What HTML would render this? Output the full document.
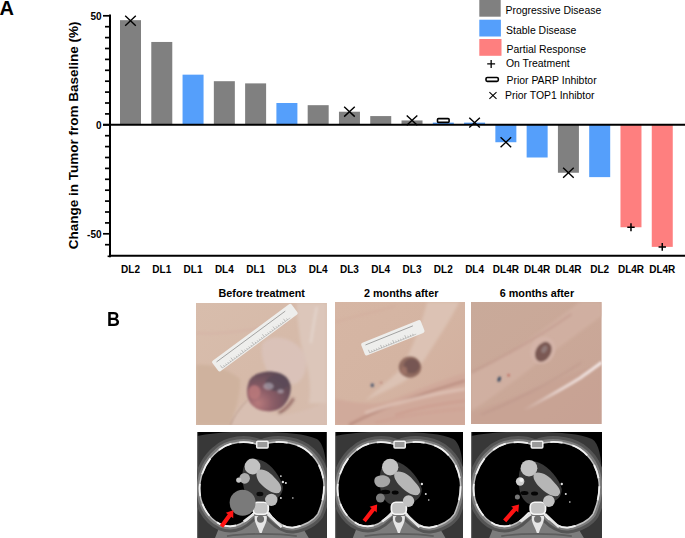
<!DOCTYPE html>
<html><head><meta charset="utf-8"><style>
html,body{margin:0;padding:0;background:#fff;}
body{width:685px;height:538px;overflow:hidden;position:relative;font-family:"Liberation Sans",sans-serif;}
.abs{position:absolute;}
.B{left:106.5px;top:307.8px;font-weight:bold;font-size:21px;line-height:22px;transform:scaleX(0.85);transform-origin:left top;}
.ttl{top:286.8px;font-weight:bold;font-size:10.8px;line-height:13px;white-space:nowrap;text-align:center;letter-spacing:0px;}
</style></head><body>
<svg class="abs" style="left:0;top:0" width="685" height="285" viewBox="0 0 685 285">
<rect x="120.00" y="20.16" width="21" height="104.64" fill="#808080"/>
<rect x="151.28" y="41.96" width="21" height="82.84" fill="#808080"/>
<rect x="182.56" y="74.66" width="21" height="50.14" fill="#559ffb"/>
<rect x="213.84" y="81.20" width="21" height="43.60" fill="#808080"/>
<rect x="245.12" y="83.38" width="21" height="41.42" fill="#808080"/>
<rect x="276.40" y="103.00" width="21" height="21.80" fill="#559ffb"/>
<rect x="307.68" y="105.18" width="21" height="19.62" fill="#808080"/>
<rect x="338.96" y="111.72" width="21" height="13.08" fill="#808080"/>
<rect x="370.24" y="116.08" width="21" height="8.72" fill="#808080"/>
<rect x="401.52" y="120.44" width="21" height="4.36" fill="#808080"/>
<rect x="432.80" y="122.62" width="21" height="2.18" fill="#559ffb"/>
<rect x="464.08" y="122.62" width="21" height="2.18" fill="#559ffb"/>
<rect x="495.36" y="124.80" width="21" height="17.44" fill="#559ffb"/>
<rect x="526.64" y="124.80" width="21" height="32.70" fill="#559ffb"/>
<rect x="557.92" y="124.80" width="21" height="47.96" fill="#808080"/>
<rect x="589.20" y="124.80" width="21" height="52.32" fill="#559ffb"/>
<rect x="620.48" y="124.80" width="21" height="102.46" fill="#fe7f7f"/>
<rect x="651.76" y="124.80" width="21" height="122.08" fill="#fe7f7f"/>
<line x1="110" y1="14.6" x2="110" y2="257.2" stroke="#000" stroke-width="2"/>
<line x1="107.6" y1="256.3" x2="110" y2="256.3" stroke="#000" stroke-width="1.6"/>
<line x1="105" y1="244.70" x2="110" y2="244.70" stroke="#000" stroke-width="1.7"/>
<line x1="103" y1="233.80" x2="110" y2="233.80" stroke="#000" stroke-width="1.7"/>
<line x1="105" y1="222.90" x2="110" y2="222.90" stroke="#000" stroke-width="1.7"/>
<line x1="105" y1="212.00" x2="110" y2="212.00" stroke="#000" stroke-width="1.7"/>
<line x1="105" y1="201.10" x2="110" y2="201.10" stroke="#000" stroke-width="1.7"/>
<line x1="105" y1="190.20" x2="110" y2="190.20" stroke="#000" stroke-width="1.7"/>
<line x1="105" y1="179.30" x2="110" y2="179.30" stroke="#000" stroke-width="1.7"/>
<line x1="105" y1="168.40" x2="110" y2="168.40" stroke="#000" stroke-width="1.7"/>
<line x1="105" y1="157.50" x2="110" y2="157.50" stroke="#000" stroke-width="1.7"/>
<line x1="105" y1="146.60" x2="110" y2="146.60" stroke="#000" stroke-width="1.7"/>
<line x1="105" y1="135.70" x2="110" y2="135.70" stroke="#000" stroke-width="1.7"/>
<line x1="103" y1="124.80" x2="110" y2="124.80" stroke="#000" stroke-width="1.7"/>
<line x1="105" y1="113.90" x2="110" y2="113.90" stroke="#000" stroke-width="1.7"/>
<line x1="105" y1="103.00" x2="110" y2="103.00" stroke="#000" stroke-width="1.7"/>
<line x1="105" y1="92.10" x2="110" y2="92.10" stroke="#000" stroke-width="1.7"/>
<line x1="105" y1="81.20" x2="110" y2="81.20" stroke="#000" stroke-width="1.7"/>
<line x1="105" y1="70.30" x2="110" y2="70.30" stroke="#000" stroke-width="1.7"/>
<line x1="105" y1="59.40" x2="110" y2="59.40" stroke="#000" stroke-width="1.7"/>
<line x1="105" y1="48.50" x2="110" y2="48.50" stroke="#000" stroke-width="1.7"/>
<line x1="105" y1="37.60" x2="110" y2="37.60" stroke="#000" stroke-width="1.7"/>
<line x1="105" y1="26.70" x2="110" y2="26.70" stroke="#000" stroke-width="1.7"/>
<line x1="103" y1="15.80" x2="110" y2="15.80" stroke="#000" stroke-width="1.7"/>
<line x1="103" y1="124.8" x2="685" y2="124.8" stroke="#000" stroke-width="2"/>
<line x1="109" y1="255.75" x2="685" y2="255.75" stroke="#000" stroke-width="2"/>
<path d="M125.20 15.86L135.80 25.66M135.80 15.86L125.20 25.66" stroke="#000" stroke-width="1.4" fill="none"/>
<path d="M344.16 106.82L354.76 116.62M354.76 106.82L344.16 116.62" stroke="#000" stroke-width="1.4" fill="none"/>
<path d="M406.72 115.54L417.32 125.34M417.32 115.54L406.72 125.34" stroke="#000" stroke-width="1.4" fill="none"/>
<rect x="437.50" y="118.6" width="11.6" height="3.8" rx="1" fill="#fff" stroke="#000" stroke-width="1.6"/>
<path d="M469.28 117.72L479.88 127.52M479.88 117.72L469.28 127.52" stroke="#000" stroke-width="1.4" fill="none"/>
<path d="M500.56 137.34L511.16 147.14M511.16 137.34L500.56 147.14" stroke="#000" stroke-width="1.4" fill="none"/>
<path d="M563.12 167.86L573.72 177.66M573.72 167.86L563.12 177.66" stroke="#000" stroke-width="1.4" fill="none"/>
<path d="M627.28 227.26H634.68M630.98 223.36V231.16" stroke="#000" stroke-width="1.5" fill="none"/>
<path d="M658.56 246.88H665.96M662.26 242.98V250.78" stroke="#000" stroke-width="1.5" fill="none"/>
<g font-family="Liberation Sans" font-weight="bold" font-size="10" fill="#000" text-anchor="end">
<text x="101.5" y="20.1">50</text>
<text x="101.5" y="128.6">0</text>
<text x="101.5" y="238.2">-50</text>
</g>
<g font-family="Liberation Sans" font-weight="bold" font-size="10" fill="#000" text-anchor="middle">
<text x="130.50" y="272.8">DL2</text>
<text x="161.78" y="272.8">DL1</text>
<text x="193.06" y="272.8">DL1</text>
<text x="224.34" y="272.8">DL4</text>
<text x="255.62" y="272.8">DL1</text>
<text x="286.90" y="272.8">DL3</text>
<text x="318.18" y="272.8">DL4</text>
<text x="349.46" y="272.8">DL3</text>
<text x="380.74" y="272.8">DL4</text>
<text x="412.02" y="272.8">DL3</text>
<text x="443.30" y="272.8">DL2</text>
<text x="474.58" y="272.8">DL4</text>
<text x="505.86" y="272.8">DL4R</text>
<text x="537.14" y="272.8">DL4R</text>
<text x="568.42" y="272.8">DL4R</text>
<text x="599.70" y="272.8">DL2</text>
<text x="630.98" y="272.8">DL4R</text>
<text x="662.26" y="272.8">DL4R</text>
</g>
<text transform="translate(78.2,135.3) rotate(-90)" font-family="Liberation Sans" font-weight="bold" font-size="13.5" text-anchor="middle">Change in Tumor from Baseline (%)</text>
<rect x="479.3" y="-1" width="21.4" height="17.7" fill="#808080"/>
<rect x="479.3" y="19.7" width="21.6" height="16.8" fill="#559ffb"/>
<rect x="479.3" y="39" width="22.2" height="16.8" fill="#fe7f7f"/>
<path d="M487.2 63.9H495.1M491.15 59.9V67.9" stroke="#000" stroke-width="1.3" fill="none"/>
<rect x="486" y="77.5" width="12.3" height="3.9" rx="1.3" fill="#fff" stroke="#000" stroke-width="1.6"/>
<g font-family="Liberation Sans" font-size="10.45" fill="#000">
<text x="505.5" y="13.8">Progressive Disease</text>
<text x="506.1" y="33.5">Stable Disease</text>
<text x="506.5" y="52.8">Partial Response</text>
<text x="505.9" y="67.4">On Treatment</text>
<text x="506.5" y="84.3">Prior PARP Inhibtor</text>
<text x="505" y="99.4">Prior TOP1 Inhibtor</text>
<path d="M489.4 92.1L496.5 98.8M496.5 92.1L489.4 98.8" stroke="#000" stroke-width="1.1" fill="none"/>
</g>
<text x="-0.4" y="15.2" font-family="Liberation Sans" font-weight="bold" font-size="20">A</text>
</svg>
<div class="abs B">B</div>
<div class="abs ttl" style="left:218.5px;width:86px">Before treatment</div>
<div class="abs ttl" style="left:364px;width:74px">2 months after</div>
<div class="abs ttl" style="left:499.7px;width:74px">6 months after</div>
<svg class="abs" style="left:196.0px;top:302.9px" width="130.9" height="122.3" viewBox="0 0 130 122" preserveAspectRatio="none"><defs><linearGradient id="p0g" x1="0" y1="0" x2="1" y2="1"><stop offset="0" stop-color="#d8bdac"/><stop offset="0.5" stop-color="#d6baa9"/><stop offset="1" stop-color="#d6bcad"/></linearGradient><radialGradient id="p0t" cx="0.25" cy="0.8" r="0.9"><stop offset="0" stop-color="#b87a7c"/><stop offset="0.4" stop-color="#8a5c66"/><stop offset="1" stop-color="#5a4854"/></radialGradient><filter id="bl0"><feGaussianBlur stdDeviation="1.6"/></filter><filter id="bl0b"><feGaussianBlur stdDeviation="0.8"/></filter></defs><rect width="130" height="122" fill="url(#p0g)"/><g filter="url(#bl0)"><path d="M0 62 C15 60 32 66 44 76 C44 90 40 106 34 122 L0 122 Z" fill="#cfb29e"/><path d="M34 122 C38 110 44 100 52 96 C62 106 74 112 84 112 C104 110 118 104 130 98 L130 122 Z" fill="#d8bfb2"/><path d="M100 0 L130 0 L130 100 L112 100 C116 80 110 60 104 40 C102 25 100 12 100 0 Z" fill="#dcc6ba"/><path d="M66 40 C76 30 96 34 106 48 C112 60 110 74 100 80 C90 84 76 78 70 66 C66 58 64 48 66 40 Z" fill="#dcc8c4" opacity="0.55"/><path d="M0 30 C30 32 60 26 90 20" stroke="#d2a6a0" stroke-width="1" fill="none" opacity="0.7"/><path d="M82 110 C88 107 93 102 97 95" stroke="#7a4a4a" stroke-width="3" fill="none" opacity="0.7"/><path d="M120 4 C118 14 116 26 114 40" stroke="#e8dcd6" stroke-width="1.4" fill="none"/></g><path d="M34 122 C38 112 44 104 51 97" stroke="#b89a8a" stroke-width="1" fill="none" filter="url(#bl0b)"/><g transform="translate(58.5,34.6) rotate(-36.6)"><rect x="-49.0" y="-6.5" width="98" height="13" rx="2" fill="#eeeeec"/><line x1="-45.0" y1="-3.3" x2="40.0" y2="-3.3" stroke="#555" stroke-width="0.45"/><line x1="-44.0" y1="5.0" x2="-44.0" y2="1.7999999999999998" stroke="#666" stroke-width="0.35"/><line x1="-41.4" y1="5.0" x2="-41.4" y2="3.4" stroke="#666" stroke-width="0.35"/><line x1="-38.8" y1="5.0" x2="-38.8" y2="3.4" stroke="#666" stroke-width="0.35"/><line x1="-36.2" y1="5.0" x2="-36.2" y2="3.4" stroke="#666" stroke-width="0.35"/><line x1="-33.6" y1="5.0" x2="-33.6" y2="3.4" stroke="#666" stroke-width="0.35"/><line x1="-31.0" y1="5.0" x2="-31.0" y2="1.7999999999999998" stroke="#666" stroke-width="0.35"/><line x1="-28.4" y1="5.0" x2="-28.4" y2="3.4" stroke="#666" stroke-width="0.35"/><line x1="-25.8" y1="5.0" x2="-25.8" y2="3.4" stroke="#666" stroke-width="0.35"/><line x1="-23.2" y1="5.0" x2="-23.2" y2="3.4" stroke="#666" stroke-width="0.35"/><line x1="-20.6" y1="5.0" x2="-20.6" y2="3.4" stroke="#666" stroke-width="0.35"/><line x1="-18.0" y1="5.0" x2="-18.0" y2="1.7999999999999998" stroke="#666" stroke-width="0.35"/><line x1="-15.4" y1="5.0" x2="-15.4" y2="3.4" stroke="#666" stroke-width="0.35"/><line x1="-12.8" y1="5.0" x2="-12.8" y2="3.4" stroke="#666" stroke-width="0.35"/><line x1="-10.2" y1="5.0" x2="-10.2" y2="3.4" stroke="#666" stroke-width="0.35"/><line x1="-7.6" y1="5.0" x2="-7.6" y2="3.4" stroke="#666" stroke-width="0.35"/><line x1="-5.0" y1="5.0" x2="-5.0" y2="1.7999999999999998" stroke="#666" stroke-width="0.35"/><line x1="-2.4" y1="5.0" x2="-2.4" y2="3.4" stroke="#666" stroke-width="0.35"/><line x1="0.2" y1="5.0" x2="0.2" y2="3.4" stroke="#666" stroke-width="0.35"/><line x1="2.8" y1="5.0" x2="2.8" y2="3.4" stroke="#666" stroke-width="0.35"/><line x1="5.4" y1="5.0" x2="5.4" y2="3.4" stroke="#666" stroke-width="0.35"/><line x1="8.0" y1="5.0" x2="8.0" y2="1.7999999999999998" stroke="#666" stroke-width="0.35"/><line x1="10.6" y1="5.0" x2="10.6" y2="3.4" stroke="#666" stroke-width="0.35"/><line x1="13.2" y1="5.0" x2="13.2" y2="3.4" stroke="#666" stroke-width="0.35"/><line x1="15.8" y1="5.0" x2="15.8" y2="3.4" stroke="#666" stroke-width="0.35"/><line x1="18.4" y1="5.0" x2="18.4" y2="3.4" stroke="#666" stroke-width="0.35"/><line x1="21.0" y1="5.0" x2="21.0" y2="1.7999999999999998" stroke="#666" stroke-width="0.35"/><line x1="23.6" y1="5.0" x2="23.6" y2="3.4" stroke="#666" stroke-width="0.35"/><line x1="26.2" y1="5.0" x2="26.2" y2="3.4" stroke="#666" stroke-width="0.35"/><line x1="28.8" y1="5.0" x2="28.8" y2="3.4" stroke="#666" stroke-width="0.35"/><line x1="31.4" y1="5.0" x2="31.4" y2="3.4" stroke="#666" stroke-width="0.35"/><line x1="34.0" y1="5.0" x2="34.0" y2="1.7999999999999998" stroke="#666" stroke-width="0.35"/><line x1="36.6" y1="5.0" x2="36.6" y2="3.4" stroke="#666" stroke-width="0.35"/><line x1="-44.0" y1="5.0" x2="40.0" y2="5.0" stroke="#777" stroke-width="0.3"/></g><g filter="url(#bl0b)"><path d="M52 80 C54 72 64 68 76 68.5 C86 69 92 74 94 82 C95 92 90 102 82 106 C72 110 60 108 54 100 C50 94 50 86 52 80 Z" fill="url(#p0t)"/><ellipse cx="58" cy="89" rx="6" ry="7" fill="#b8787a" opacity="0.9"/><ellipse cx="80" cy="80" rx="11" ry="8" fill="#5a4a58" opacity="0.85"/><ellipse cx="72" cy="83" rx="5" ry="3.5" fill="#b8b0bc" opacity="0.6"/><ellipse cx="84" cy="88" rx="3" ry="2" fill="#b8b0bc" opacity="0.6"/></g></svg>
<svg class="abs" style="left:334.9px;top:301.6px" width="130.3" height="123.0" viewBox="0 0 130 122" preserveAspectRatio="none"><defs><linearGradient id="p1g" x1="0" y1="0" x2="1" y2="1"><stop offset="0" stop-color="#d6b6a4"/><stop offset="0.5" stop-color="#d4b4a2"/><stop offset="1" stop-color="#d2ae9e"/></linearGradient><filter id="bl1"><feGaussianBlur stdDeviation="1.6"/></filter><filter id="bl1b"><feGaussianBlur stdDeviation="1.0"/></filter></defs><rect width="130" height="122" fill="url(#p1g)"/><g filter="url(#bl1)"><path d="M92 0 L124 0 C114 20 100 40 90 56 C84 64 78 72 70 78 C56 86 42 92 30 98 C40 88 52 80 62 70 C72 58 82 36 92 0 Z" fill="#dcc2b4"/><path d="M0 96 C20 100 40 104 60 96 C80 88 100 80 130 70 L130 122 L0 122 Z" fill="#d0a898" opacity="0.8"/><path d="M14 122 C40 108 70 96 130 78" stroke="#b48478" stroke-width="2" fill="none"/><path d="M30 110 C60 100 90 92 130 86" stroke="#e0c4b8" stroke-width="2.5" fill="none"/><path d="M60 112 C80 106 110 100 130 98" stroke="#c89084" stroke-width="1" fill="none"/><path d="M40 120 C70 112 100 108 130 106" stroke="#cc9a8e" stroke-width="1" fill="none"/><path d="M0 20 C20 14 40 10 60 4" stroke="#cfa496" stroke-width="1" fill="none" opacity="0.6"/></g><g transform="translate(57.7,35.5) rotate(-21.8)"><rect x="-32.0" y="-6.75" width="64" height="13.5" rx="2" fill="#eeeeec"/><line x1="-28.0" y1="-3.55" x2="23.0" y2="-3.55" stroke="#555" stroke-width="0.45"/><line x1="-27.0" y1="5.25" x2="-27.0" y2="2.05" stroke="#666" stroke-width="0.35"/><line x1="-24.4" y1="5.25" x2="-24.4" y2="3.65" stroke="#666" stroke-width="0.35"/><line x1="-21.8" y1="5.25" x2="-21.8" y2="3.65" stroke="#666" stroke-width="0.35"/><line x1="-19.2" y1="5.25" x2="-19.2" y2="3.65" stroke="#666" stroke-width="0.35"/><line x1="-16.6" y1="5.25" x2="-16.6" y2="3.65" stroke="#666" stroke-width="0.35"/><line x1="-14.0" y1="5.25" x2="-14.0" y2="2.05" stroke="#666" stroke-width="0.35"/><line x1="-11.4" y1="5.25" x2="-11.4" y2="3.65" stroke="#666" stroke-width="0.35"/><line x1="-8.8" y1="5.25" x2="-8.8" y2="3.65" stroke="#666" stroke-width="0.35"/><line x1="-6.2" y1="5.25" x2="-6.2" y2="3.65" stroke="#666" stroke-width="0.35"/><line x1="-3.6" y1="5.25" x2="-3.6" y2="3.65" stroke="#666" stroke-width="0.35"/><line x1="-1.0" y1="5.25" x2="-1.0" y2="2.05" stroke="#666" stroke-width="0.35"/><line x1="1.6" y1="5.25" x2="1.6" y2="3.65" stroke="#666" stroke-width="0.35"/><line x1="4.2" y1="5.25" x2="4.2" y2="3.65" stroke="#666" stroke-width="0.35"/><line x1="6.8" y1="5.25" x2="6.8" y2="3.65" stroke="#666" stroke-width="0.35"/><line x1="9.4" y1="5.25" x2="9.4" y2="3.65" stroke="#666" stroke-width="0.35"/><line x1="12.0" y1="5.25" x2="12.0" y2="2.05" stroke="#666" stroke-width="0.35"/><line x1="14.6" y1="5.25" x2="14.6" y2="3.65" stroke="#666" stroke-width="0.35"/><line x1="17.2" y1="5.25" x2="17.2" y2="3.65" stroke="#666" stroke-width="0.35"/><line x1="19.8" y1="5.25" x2="19.8" y2="3.65" stroke="#666" stroke-width="0.35"/><line x1="-27.0" y1="5.25" x2="23.0" y2="5.25" stroke="#777" stroke-width="0.3"/></g><g filter="url(#bl1b)"><ellipse cx="74.8" cy="64.6" rx="11.2" ry="10.5" fill="#906a5e"/><ellipse cx="76.5" cy="63.5" rx="8" ry="7.5" fill="#6e5050" opacity="0.75"/><ellipse cx="69" cy="68" rx="3" ry="4" fill="#a07468" opacity="0.8"/><ellipse cx="37.2" cy="82.6" rx="1.6" ry="2" fill="#505a70"/><circle cx="46" cy="80" r="0.8" fill="#a86058"/></g></svg>
<svg class="abs" style="left:471.4px;top:301.8px" width="130.6" height="122.7" viewBox="0 0 130 122" preserveAspectRatio="none"><defs><linearGradient id="p2g" x1="0" y1="0" x2="1" y2="1"><stop offset="0" stop-color="#c9aa9a"/><stop offset="0.5" stop-color="#caa898"/><stop offset="1" stop-color="#c8a496"/></linearGradient><linearGradient id="p2s" x1="0" y1="1" x2="1" y2="0"><stop offset="0" stop-color="#e8d8d4" stop-opacity="0"/><stop offset="0.45" stop-color="#ecdcd8" stop-opacity="0.8"/><stop offset="1" stop-color="#f2e6e4"/></linearGradient><filter id="bl2"><feGaussianBlur stdDeviation="1.6"/></filter><filter id="bl2b"><feGaussianBlur stdDeviation="0.8"/></filter></defs><rect width="130" height="122" fill="url(#p2g)"/><g filter="url(#bl2)"><path d="M0 72 C30 58 70 30 108 0 L130 0 L130 14 C100 36 70 58 46 76 C30 88 14 100 0 108 Z" fill="#d2b2a4" opacity="0.8"/><path d="M0 110 C30 100 70 84 130 60 L130 122 L0 122 Z" fill="#c6a092" opacity="0.6"/><path d="M0 70 C30 56 60 40 100 12" stroke="#b88a80" stroke-width="1" fill="none"/><path d="M10 112 C40 100 80 80 110 60" stroke="#b48a80" stroke-width="1" fill="none" opacity="0.7"/></g><path d="M52 108 C70 98 92 86 108 76 C116 70 124 65 130 60" stroke="url(#p2s)" stroke-width="3.2" fill="none" filter="url(#bl2b)"/><g filter="url(#bl2b)"><ellipse cx="71.4" cy="48.2" rx="12" ry="14" transform="rotate(30 71.4 48.2)" fill="#d4b4a8"/><ellipse cx="72" cy="49.5" rx="7.5" ry="10.5" transform="rotate(30 72 49.5)" fill="#7a5852"/><ellipse cx="73" cy="47" rx="2.5" ry="4" transform="rotate(30 73 47)" fill="#9a8888" opacity="0.7"/><ellipse cx="28.1" cy="76.7" rx="1.6" ry="2.8" transform="rotate(20 28.1 76.7)" fill="#3e4e64"/><circle cx="37.4" cy="72.9" r="1" fill="#b43a30"/></g></svg>
<svg class="abs" style="left:197.1px;top:431.9px" width="129.8" height="106.1" viewBox="0 0 130 106" preserveAspectRatio="none"><rect width="130" height="106" fill="#000"/><path d="M0 4 C20 0 45 -1 65 0 C90 0 108 2 120 7 C128 12 130 30 130 50 L130 106 L0 106 Z" fill="#383838"/><line x1="0.6" y1="0" x2="0.6" y2="106" stroke="#6e6e6e" stroke-width="0.9"/><path d="M18 106 L22 96 C36 99 46 94 56 86 L74 86 C82 94 92 98 106 96 L112 106 Z" fill="#7c7c7c"/><path d="M30 104 C50 101 80 101 100 104" stroke="#5e5e5e" stroke-width="1.6" fill="none"/><path d="M62 13 C50 8 31 9 20 19.7 C11 27 3.5 40 2.6 55 C2 70 10 86 24 92.5 C36 97 46 92 53 85 L57 81 L72 81 L75 85 C82 92 88 96 96 95.5 C108 94 117 88 121 82 C125.5 72 128 60 127 50 C125.5 35 118 24 108 17 C96 9 76 8 66 13 Z" fill="none" stroke="#555" stroke-width="12"/><path d="M62 13 C50 8 31 9 20 19.7 C11 27 3.5 40 2.6 55 C2 70 10 86 24 92.5 C36 97 46 92 53 85 L57 81 L72 81 L75 85 C82 92 88 96 96 95.5 C108 94 117 88 121 82 C125.5 72 128 60 127 50 C125.5 35 118 24 108 17 C96 9 76 8 66 13 Z" fill="none" stroke="#7a7a7a" stroke-width="6"/><path d="M62 13 C50 8 31 9 20 19.7 C11 27 3.5 40 2.6 55 C2 70 10 86 24 92.5 C36 97 46 92 53 85 L57 81 L72 81 L75 85 C82 92 88 96 96 95.5 C108 94 117 88 121 82 C125.5 72 128 60 127 50 C125.5 35 118 24 108 17 C96 9 76 8 66 13 Z" fill="#000"/><path d="M62 13 C50 8 31 9 20 19.7 C11 27 3.5 40 2.6 55 C2 70 10 86 24 92.5 C36 97 46 92 53 85 L57 81 L72 81 L75 85 C82 92 88 96 96 95.5 C108 94 117 88 121 82 C125.5 72 128 60 127 50 C125.5 35 118 24 108 17 C96 9 76 8 66 13 Z" fill="none" stroke="#c0c0c0" stroke-width="1.5"/><path d="M62 13 C50 8 31 9 20 19.7 C11 27 3.5 40 2.6 55 C2 70 10 86 24 92.5 C36 97 46 92 53 85 L57 81 L72 81 L75 85 C82 92 88 96 96 95.5 C108 94 117 88 121 82 C125.5 72 128 60 127 50 C125.5 35 118 24 108 17 C96 9 76 8 66 13 Z" fill="none" stroke="#f0f0f0" stroke-width="1.8" stroke-dasharray="0 6 14 8 14 12 18 10 12 8 14 10 20 10 14 8 14 10 18 30"/><rect x="59.8" y="9.3" width="11.4" height="6.6" rx="1" fill="#9a9a9a" stroke="#f2f2f2" stroke-width="1.5"/><path d="M46 38 C48 28 58 25 66 29 C75 33 84 45 86 55 C86 63 81 67 74 69 L56 70 C48 66 44 50 46 38 Z" fill="#383838"/><path d="M56.8 82 L46.8 89.5 M70.8 82 L84.8 95" stroke="#e6e6e6" stroke-width="2.6" fill="none"/><path d="M57.8 84 C56.8 90 60.8 94 62.8 101 L64.8 101 C66.8 94 70.8 90 69.8 84 Z" fill="#e6e6e6"/><circle cx="63.599999999999994" cy="87" r="3.6" fill="#6e6e6e"/><rect x="56.199999999999996" y="70.2" width="15.2" height="12" rx="4.5" fill="#c4c4c4" stroke="#f6f6f6" stroke-width="1.7"/><circle cx="55.6" cy="34.5" r="7.9" fill="#c2c2c2"/><path d="M61 38 C67 36 73 40 79 47 C85 53 86 58 82 61 C76 62 70 58 64 52 C60 48 58 42 61 38 Z" fill="#b6b6b6"/><circle cx="47.7" cy="46.3" r="5.3" fill="#adadad"/><circle cx="41.8" cy="48" r="2.6" fill="#c6c6c6"/><circle cx="74.4" cy="67.8" r="6.2" fill="#bcbcbc"/><circle cx="45.7" cy="70.7" r="13" fill="#7a7a7a"/><ellipse cx="63" cy="62" rx="3.5" ry="2.2" fill="#0a0a0a"/><circle cx="84" cy="44" r="0.9" fill="#e0e0e0"/><circle cx="86" cy="50" r="1.2" fill="#e0e0e0"/><circle cx="89" cy="51" r="1" fill="#e0e0e0"/><circle cx="96" cy="66" r="0.8" fill="#e0e0e0"/><circle cx="84" cy="66" r="1" fill="#e0e0e0"/><polygon points="26.20,95.64 34.26,84.59 36.28,86.06 36.40,78.10 28.85,80.64 30.87,82.11 22.80,93.16" fill="#ff1414"/></svg>
<svg class="abs" style="left:335.0px;top:431.9px" width="128.3" height="106.1" viewBox="0 0 130 106" preserveAspectRatio="none"><rect width="130" height="106" fill="#000"/><path d="M0 4 C20 0 45 -1 65 0 C90 0 108 2 120 7 C128 12 130 30 130 50 L130 106 L0 106 Z" fill="#383838"/><line x1="0.6" y1="0" x2="0.6" y2="106" stroke="#6e6e6e" stroke-width="0.9"/><path d="M18 106 L22 96 C36 99 46 94 56 86 L74 86 C82 94 92 98 106 96 L112 106 Z" fill="#7c7c7c"/><path d="M30 104 C50 101 80 101 100 104" stroke="#5e5e5e" stroke-width="1.6" fill="none"/><path d="M62 13 C50 8 31 9 20 19.7 C11 27 3.5 40 2.6 55 C2 70 10 86 24 92.5 C36 97 46 92 53 85 L57 81 L72 81 L75 85 C82 92 88 96 96 95.5 C108 94 117 88 121 82 C125.5 72 128 60 127 50 C125.5 35 118 24 108 17 C96 9 76 8 66 13 Z" fill="none" stroke="#555" stroke-width="12"/><path d="M62 13 C50 8 31 9 20 19.7 C11 27 3.5 40 2.6 55 C2 70 10 86 24 92.5 C36 97 46 92 53 85 L57 81 L72 81 L75 85 C82 92 88 96 96 95.5 C108 94 117 88 121 82 C125.5 72 128 60 127 50 C125.5 35 118 24 108 17 C96 9 76 8 66 13 Z" fill="none" stroke="#7a7a7a" stroke-width="6"/><path d="M62 13 C50 8 31 9 20 19.7 C11 27 3.5 40 2.6 55 C2 70 10 86 24 92.5 C36 97 46 92 53 85 L57 81 L72 81 L75 85 C82 92 88 96 96 95.5 C108 94 117 88 121 82 C125.5 72 128 60 127 50 C125.5 35 118 24 108 17 C96 9 76 8 66 13 Z" fill="#000"/><path d="M62 13 C50 8 31 9 20 19.7 C11 27 3.5 40 2.6 55 C2 70 10 86 24 92.5 C36 97 46 92 53 85 L57 81 L72 81 L75 85 C82 92 88 96 96 95.5 C108 94 117 88 121 82 C125.5 72 128 60 127 50 C125.5 35 118 24 108 17 C96 9 76 8 66 13 Z" fill="none" stroke="#c0c0c0" stroke-width="1.5"/><path d="M62 13 C50 8 31 9 20 19.7 C11 27 3.5 40 2.6 55 C2 70 10 86 24 92.5 C36 97 46 92 53 85 L57 81 L72 81 L75 85 C82 92 88 96 96 95.5 C108 94 117 88 121 82 C125.5 72 128 60 127 50 C125.5 35 118 24 108 17 C96 9 76 8 66 13 Z" fill="none" stroke="#f0f0f0" stroke-width="1.8" stroke-dasharray="0 6 14 8 14 12 18 10 12 8 14 10 20 10 14 8 14 10 18 30"/><rect x="59.8" y="9.3" width="11.4" height="6.6" rx="1" fill="#9a9a9a" stroke="#f2f2f2" stroke-width="1.5"/><path d="M46 40 C48 30 58 27 66 31 C75 35 86 47 88 57 C88 65 83 69 76 71 L56 72 C46 68 44 52 46 40 Z" fill="#383838"/><path d="M57.7 82 L47.7 89.5 M71.7 82 L85.7 95" stroke="#e6e6e6" stroke-width="2.6" fill="none"/><path d="M58.7 84 C57.7 90 61.7 94 63.7 101 L65.7 101 C67.7 94 71.7 90 70.7 84 Z" fill="#e6e6e6"/><circle cx="64.5" cy="87" r="3.6" fill="#6e6e6e"/><rect x="57.1" y="70.2" width="15.2" height="12" rx="4.5" fill="#c4c4c4" stroke="#f6f6f6" stroke-width="1.7"/><circle cx="55.9" cy="35.1" r="8.3" fill="#c2c2c2"/><path d="M61 40 C67 38 75 42 81 50 C87 56 88 60 84 63 C78 64 72 60 66 54 C62 50 58 44 61 40 Z" fill="#b6b6b6"/><path d="M40.5 46 C44 42 54 42 56 48 C56 54 50 56 44 55 C40 53 39 49 40.5 46 Z" fill="#a6a6a6"/><ellipse cx="51" cy="60" rx="5" ry="2.2" fill="#050505"/><ellipse cx="61" cy="60.5" rx="3.5" ry="2" fill="#050505"/><circle cx="74.5" cy="69.1" r="5.8" fill="#c2c2c2"/><circle cx="46" cy="65.9" r="4.5" fill="#7e7e7e"/><circle cx="88" cy="52" r="1.2" fill="#e0e0e0"/><circle cx="92" cy="62" r="1" fill="#e0e0e0"/><circle cx="95" cy="68" r="0.8" fill="#e0e0e0"/><polygon points="31.24,90.21 40.30,78.80 42.26,80.35 42.70,72.40 35.06,74.63 37.01,76.18 27.96,87.59" fill="#ff1414"/></svg>
<svg class="abs" style="left:470.9px;top:431.9px" width="131.1" height="106.1" viewBox="0 0 130 106" preserveAspectRatio="none"><rect width="130" height="106" fill="#000"/><path d="M0 4 C20 0 45 -1 65 0 C90 0 108 2 120 7 C128 12 130 30 130 50 L130 106 L0 106 Z" fill="#383838"/><line x1="0.6" y1="0" x2="0.6" y2="106" stroke="#6e6e6e" stroke-width="0.9"/><path d="M18 106 L22 96 C36 99 46 94 56 86 L74 86 C82 94 92 98 106 96 L112 106 Z" fill="#7c7c7c"/><path d="M30 104 C50 101 80 101 100 104" stroke="#5e5e5e" stroke-width="1.6" fill="none"/><path d="M62 13 C50 8 31 9 20 19.7 C11 27 3.5 40 2.6 55 C2 70 10 86 24 92.5 C36 97 46 92 53 85 L57 81 L72 81 L75 85 C82 92 88 96 96 95.5 C108 94 117 88 121 82 C125.5 72 128 60 127 50 C125.5 35 118 24 108 17 C96 9 76 8 66 13 Z" fill="none" stroke="#555" stroke-width="12"/><path d="M62 13 C50 8 31 9 20 19.7 C11 27 3.5 40 2.6 55 C2 70 10 86 24 92.5 C36 97 46 92 53 85 L57 81 L72 81 L75 85 C82 92 88 96 96 95.5 C108 94 117 88 121 82 C125.5 72 128 60 127 50 C125.5 35 118 24 108 17 C96 9 76 8 66 13 Z" fill="none" stroke="#7a7a7a" stroke-width="6"/><path d="M62 13 C50 8 31 9 20 19.7 C11 27 3.5 40 2.6 55 C2 70 10 86 24 92.5 C36 97 46 92 53 85 L57 81 L72 81 L75 85 C82 92 88 96 96 95.5 C108 94 117 88 121 82 C125.5 72 128 60 127 50 C125.5 35 118 24 108 17 C96 9 76 8 66 13 Z" fill="#000"/><path d="M62 13 C50 8 31 9 20 19.7 C11 27 3.5 40 2.6 55 C2 70 10 86 24 92.5 C36 97 46 92 53 85 L57 81 L72 81 L75 85 C82 92 88 96 96 95.5 C108 94 117 88 121 82 C125.5 72 128 60 127 50 C125.5 35 118 24 108 17 C96 9 76 8 66 13 Z" fill="none" stroke="#c0c0c0" stroke-width="1.5"/><path d="M62 13 C50 8 31 9 20 19.7 C11 27 3.5 40 2.6 55 C2 70 10 86 24 92.5 C36 97 46 92 53 85 L57 81 L72 81 L75 85 C82 92 88 96 96 95.5 C108 94 117 88 121 82 C125.5 72 128 60 127 50 C125.5 35 118 24 108 17 C96 9 76 8 66 13 Z" fill="none" stroke="#f0f0f0" stroke-width="1.8" stroke-dasharray="0 6 14 8 14 12 18 10 12 8 14 10 20 10 14 8 14 10 18 30"/><rect x="59.8" y="9.3" width="11.4" height="6.6" rx="1" fill="#9a9a9a" stroke="#f2f2f2" stroke-width="1.5"/><path d="M48 40 C50 30 60 27 68 31 C77 35 88 47 90 57 C90 65 85 69 78 71 L58 72 C48 68 46 52 48 40 Z" fill="#383838"/><path d="M59.3 82 L49.3 89.5 M73.3 82 L87.3 95" stroke="#e6e6e6" stroke-width="2.6" fill="none"/><path d="M60.3 84 C59.3 90 63.3 94 65.3 101 L67.3 101 C69.3 94 73.3 90 72.3 84 Z" fill="#e6e6e6"/><circle cx="66.1" cy="87" r="3.6" fill="#6e6e6e"/><rect x="58.699999999999996" y="70.2" width="15.2" height="12" rx="4.5" fill="#c4c4c4" stroke="#f6f6f6" stroke-width="1.7"/><circle cx="57.5" cy="36.2" r="8.3" fill="#c2c2c2"/><path d="M63 41 C69 39 77 43 83 51 C89 57 90 61 86 64 C80 65 74 61 68 55 C64 51 60 45 63 41 Z" fill="#b6b6b6"/><circle cx="48.7" cy="49.4" r="4.2" fill="#cfcfcf"/><circle cx="50" cy="48" r="2" fill="#f0f0f0"/><ellipse cx="53" cy="61" rx="4" ry="2" fill="#050505"/><ellipse cx="63" cy="61.5" rx="3.5" ry="2" fill="#050505"/><circle cx="77.2" cy="69.1" r="5.8" fill="#c2c2c2"/><circle cx="46" cy="65" r="2.5" fill="#777"/><circle cx="90" cy="52" r="1.2" fill="#e0e0e0"/><circle cx="94" cy="62" r="1" fill="#e0e0e0"/><circle cx="98" cy="70" r="0.8" fill="#e0e0e0"/><polygon points="34.99,90.27 44.95,78.70 46.85,80.33 47.60,72.40 39.87,74.33 41.77,75.96 31.81,87.53" fill="#ff1414"/></svg>
</body></html>
